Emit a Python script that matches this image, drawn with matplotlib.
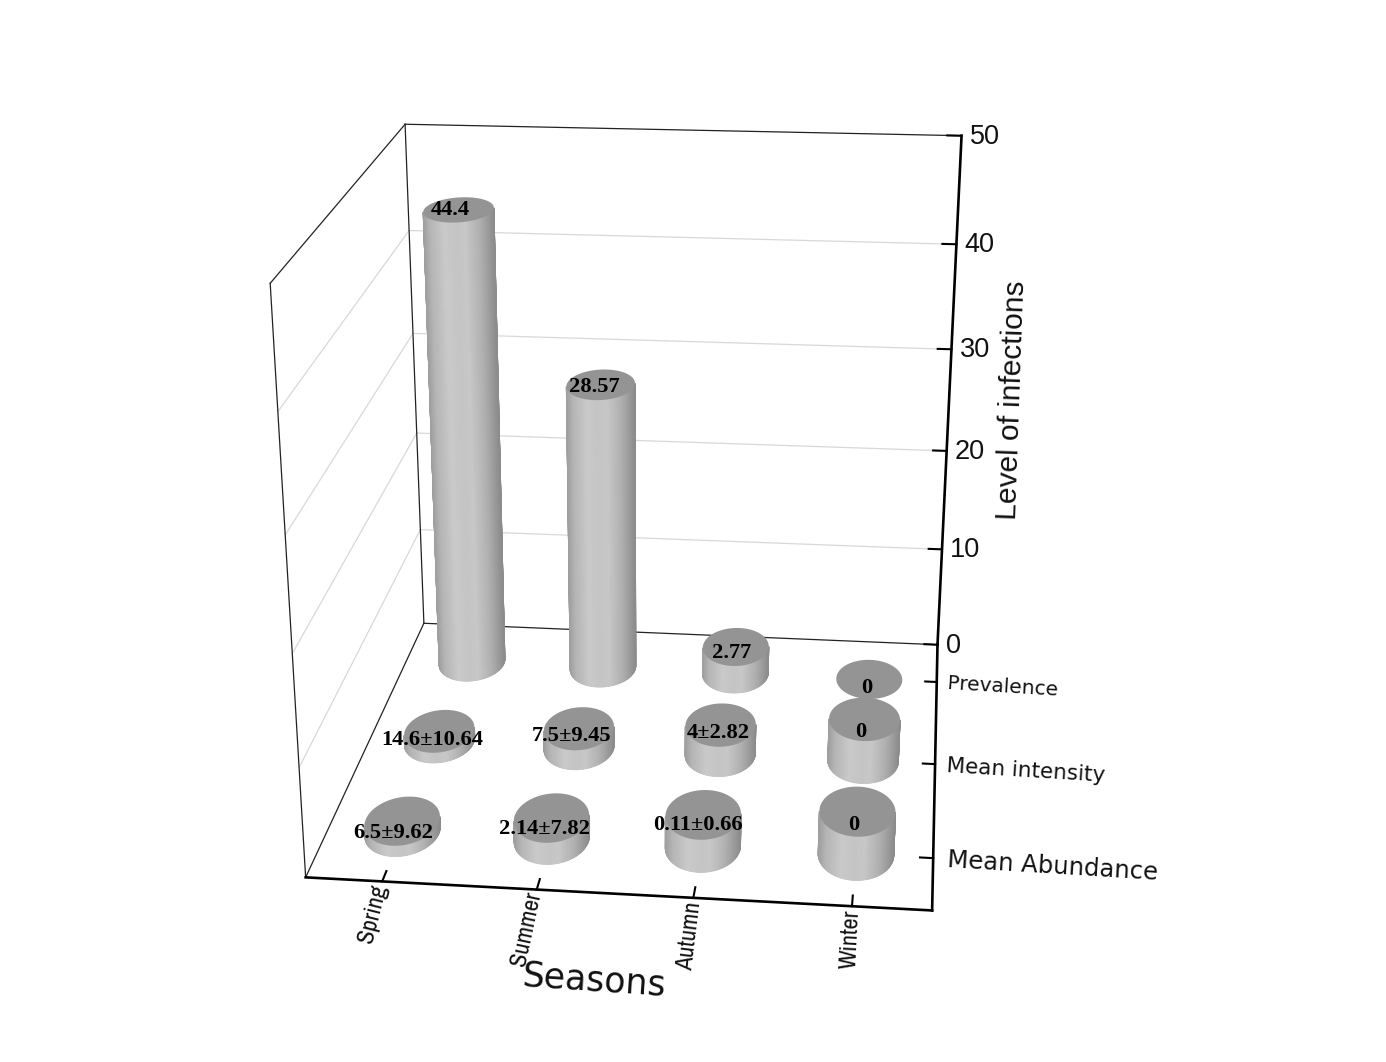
import logging
import numpy as np
import matplotlib
matplotlib.use("Agg")
import matplotlib.pyplot as plt
from matplotlib.patches import Polygon

# ---------- data ----------
seasons = ["Spring", "Summer", "Autumn", "Winter"]
measures = ["Mean Abundance", "Mean intensity", "Prevalence"]
z_ticks = [0, 10, 20, 30, 40, 50]
# drawn column heights
abundance_heights = [1.0, 2.0, 3.0, 4.0]
intensity_heights = [1.0, 1.9, 2.9, 4.1]
prevalence_heights = [44.4, 28.4, 2.77, 0.0]
# printed value labels
abundance_labels = ["6.5±9.62", "2.14±7.82", "0.11±0.66", "0"]
intensity_labels = ["14.6±10.64", "7.5±9.45", "4±2.82", "0"]
prevalence_labels = ["44.4", "28.57", "2.77", "0"]

heights = [abundance_heights, intensity_heights, prevalence_heights]
labels = [abundance_labels, intensity_labels, prevalence_labels]

# ---------- projection (fitted to the box corners) ----------
XMIN, XMAX, YMIN, YMAX, ZMIN, ZMAX = 0.5, 4.5, 0.5, 3.5, 0, 50
box_world = [(XMIN, YMIN, 0), (XMAX, YMIN, 0), (XMAX, YMAX, 0), (XMIN, YMAX, 0),
             (XMIN, YMAX, 50), (XMAX, YMAX, 50), (XMIN, YMIN, 50)]
box_screen = [(306, 878), (931, 911), (938, 644), (424, 623),
              (404, 125), (962, 136), (271, 282)]
rows = []
for (x, y, z), (u, v) in zip(box_world, box_screen):
    rows.append([x, y, z, 1, 0, 0, 0, 0, -u*x, -u*y, -u*z, -u])
    rows.append([0, 0, 0, 0, x, y, z, 1, -v*x, -v*y, -v*z, -v])
P = np.linalg.svd(np.array(rows, float))[2][-1].reshape(3, 4)


def proj(x, y, z):
    x, y, z = np.broadcast_arrays(x, y, z)
    w = np.stack([x, y, z, np.ones_like(x, dtype=float)])
    s = P @ w
    return s[0] / s[2], s[1] / s[2]


fig = plt.figure(figsize=(13.86, 10.62), dpi=100, facecolor="white")
ax = fig.add_axes([0, 0, 1, 1])
ax.set_xlim(0, 1386)
ax.set_ylim(1062, 0)
ax.axis("off")


def seg(a, b, **kw):
    xs, ys = proj(np.array([a[0], b[0]]), np.array([a[1], b[1]]), np.array([a[2], b[2]]))
    ax.plot(xs, ys, solid_capstyle="projecting", **kw)


# ---------- box ----------
grid_kw = dict(color="#d8d8d8", lw=0.9, zorder=1)
for z in z_ticks[1:-1]:
    seg((XMIN, YMAX, z), (XMAX, YMAX, z), **grid_kw)
    seg((XMIN, YMIN, z), (XMIN, YMAX, z), **grid_kw)
thin = dict(color="#222222", lw=0.9, zorder=2)
seg((XMIN, YMAX, 50), (XMAX, YMAX, 50), **thin)
seg((XMIN, YMAX, 50), (XMIN, YMAX, 0), **thin)
seg((XMIN, YMAX, 50), (XMIN, YMIN, 50), **thin)
seg((XMIN, YMIN, 50), (XMIN, YMIN, 0), **thin)
seg((XMIN, YMIN, 0), (XMIN, YMAX, 0), **thin)
seg((XMIN, YMAX, 0), (XMAX, YMAX, 0), **thin)
thick = dict(color="black", lw=1.9, zorder=2)
seg((XMIN, YMIN, 0), (XMAX, YMIN, 0), **thick)
seg((XMAX, YMIN, 0), (XMAX, YMAX, 0), **thick)
seg((XMAX, YMAX, 0), (XMAX, YMAX, 50), **thick)

# ticks
tick = dict(color="black", lw=1.5, zorder=2)
for i in range(4):
    seg((i + 1, YMIN, 0), (i + 1, YMIN + 0.1, 0), **tick)
for j in range(3):
    seg((XMAX, j + 1, 0), (XMAX - 0.085, j + 1, 0), **tick)
for z in z_ticks:
    seg((XMAX, YMAX, z), (XMAX - 0.1, YMAX, z), **tick)

# ---------- cylinders ----------
RX, RY = 0.245, 0.255
shade_u = [0.0, 0.1, 0.3, 0.45, 0.6, 0.8, 1.0]
shade_g = [0.62, 0.71, 0.79, 0.77, 0.78, 0.69, 0.55]
TOP = "#949494"
theta = np.linspace(0, 2 * np.pi, 721)


def rim(xc, yc, h, t):
    return proj(xc + RX * np.cos(t), yc + RY * np.sin(t), float(h))


def cylinder(xc, yc, h, zo):
    tx, ty = rim(xc, yc, h, theta)
    if h > 0:
        bx, _ = rim(xc, yc, 0, theta)
        t_left, t_right = theta[np.argmin(bx)], theta[np.argmax(bx)]
        if t_right < t_left:
            t_right += 2 * np.pi
        arc = np.linspace(t_left, t_right, 97)
        x0, y0 = rim(xc, yc, 0, arc)
        x1, y1 = rim(xc, yc, h, arc)
        ax.add_patch(Polygon(np.column_stack([np.r_[x0, x1[::-1]], np.r_[y0, y1[::-1]]]),
                             closed=True, facecolor="#b4b4b4", edgecolor="none", zorder=zo))
        s = (arc - t_left) / (t_right - t_left)
        g = np.interp(0.5 * (1 - np.cos(np.pi * s)), shade_u, shade_g)
        ax.pcolormesh(np.vstack([x0, x1]), np.vstack([y0, y1]), np.vstack([g, g]),
                      shading="gouraud", cmap="gray", vmin=0, vmax=1, zorder=zo + 0.2)
    ax.add_patch(Polygon(np.column_stack([tx, ty]), closed=True, facecolor=TOP,
                         edgecolor="none", zorder=zo + 0.5))


for j in [2, 1, 0]:
    for i in range(4):
        cylinder(i + 1, j + 1, heights[j][i], 10 + (2 - j) * 10 + i)
ax.set_xlim(0, 1386)
ax.set_ylim(1062, 0)

# ---------- text ----------
logging.getLogger("matplotlib.font_manager").setLevel(logging.ERROR)
NARROW = ["Archivo Narrow", "Liberation Sans"]
SANS = "Liberation Sans"
SERIF = "Liberation Serif"

label_shift = [[(-9, 12), (-7, 11), (-5, 11), (-4, 14)],
               [(-7, 9), (-7, 8), (-2, 8), (-4, 13)],
               [(-8, 0), (-6, 2), (-4, 6), (-3, 9)]]
for j in range(3):
    for i in range(4):
        px, py = proj(float(i + 1), float(j + 1), float(heights[j][i]))
        dx, dy = label_shift[j][i]
        ax.text(px + dx, py + dy, labels[j][i], family=SERIF, weight="bold", fontsize=16.2,
                ha="center", va="center", color="black", zorder=100)

for z in z_ticks:
    px, py = proj(XMAX, YMAX, float(z))
    ax.text(px + 8, py + 1, str(z), family=SANS, fontsize=19.5, ha="left", va="center", color="#111111")

season_rot = [76, 78, 83, 87]
season_center = [(-9, 32), (-10, 39), (-4, 38), (-1, 33)]
for i, s in enumerate(seasons):
    px, py = proj(float(i + 1), YMIN, 0.0)
    ax.text(px + season_center[i][0], py + season_center[i][1], s, family=NARROW, fontsize=17.5,
            rotation=season_rot[i], rotation_mode="anchor", ha="center", va="center", color="#111111")

for j, m in enumerate(measures):
    px, py = proj(XMAX, float(j + 1), 0.0)
    ax.text(947, py + 2, m, family="DejaVu Sans", fontsize=[17.5, 15.5, 14.5][j], rotation=-3.5,
            rotation_mode="anchor", ha="left", va="center", color="#111111")

ax.text(594, 981, "Seasons", family="DejaVu Sans", fontsize=25, rotation=-4,
        rotation_mode="anchor", ha="center", va="center", color="#111111")
ax.text(1012, 400, "Level of infections", family=SANS, fontsize=21.5, rotation=88,
        rotation_mode="anchor", ha="center", va="center", color="#111111")

fig.savefig("out.png", dpi=100, facecolor="white")
